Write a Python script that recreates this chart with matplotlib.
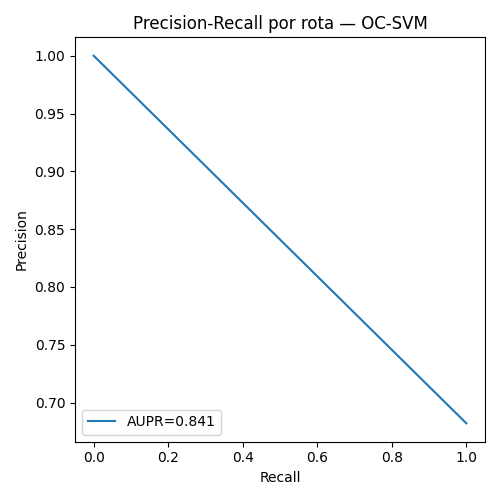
import matplotlib
matplotlib.use("Agg")
import matplotlib.pyplot as plt

recall = [0.0, 1.0]
precision = [1.0, 0.682]
aupr = 0.841

fig, ax = plt.subplots(figsize=(5, 5), dpi=100)
ax.plot(recall, precision, label=f"AUPR={aupr:.3f}")
ax.set_xlabel("Recall")
ax.set_ylabel("Precision")
ax.set_title("Precision-Recall por rota — OC-SVM")
ax.legend(loc="lower left")
fig.tight_layout()
fig.savefig("out.png")
